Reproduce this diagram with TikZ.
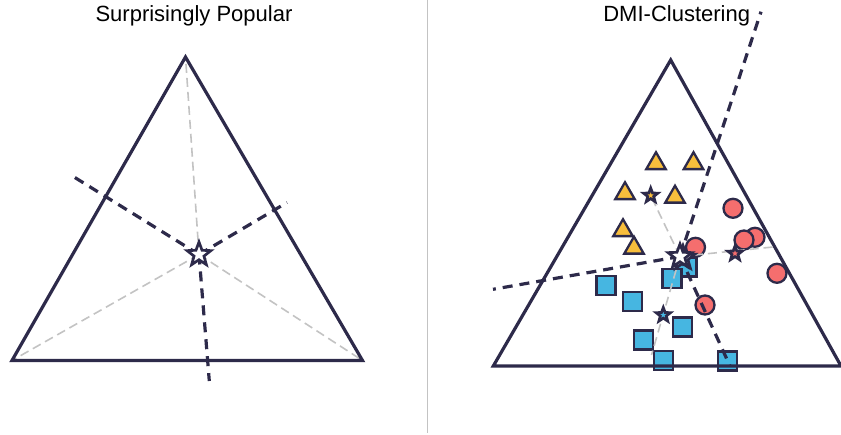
\documentclass[tikz,border=0pt]{standalone}
\usepackage{fontspec}
\setmainfont{Liberation Sans}
\usetikzlibrary{shapes.geometric}
\definecolor{navy}{RGB}{45,42,74}
\definecolor{ylw}{RGB}{248,190,60}
\definecolor{rd}{RGB}{245,110,110}
\definecolor{bl}{RGB}{70,182,225}
\definecolor{lgray}{RGB}{195,195,195}
\begin{document}
\begin{tikzpicture}[x=1pt,y=-1pt,
 edge/.style={draw=navy,line width=3.2pt,line join=miter},
 darkdash/.style={draw=navy,line width=3.2pt,dash pattern=on 10pt off 7pt},
 graydash/.style={draw=lgray,line width=1.6pt,dash pattern=on 9pt off 5pt},
 sep/.style={draw=lgray,line width=1.2pt},
 tri/.style={regular polygon,regular polygon sides=3,minimum size=22.5pt,inner sep=0pt,fill=ylw,draw=navy,line width=2.3pt},
 circ/.style={circle,minimum size=19pt,inner sep=0pt,fill=rd,draw=navy,line width=2.3pt},
 sq/.style={rectangle,minimum size=19pt,inner sep=0pt,fill=bl,draw=navy,line width=2.3pt},
 bigstar/.style={star,star points=5,star point ratio=2.4,minimum size=25pt,inner sep=0pt,fill=white,draw=navy,line width=2.7pt},
 smallstar/.style={star,star points=5,star point ratio=2.4,minimum size=15pt,inner sep=0pt,draw=navy,line width=2.7pt},
 title/.style={font=\fontsize{22}{26}\selectfont,anchor=base,inner sep=0pt}
]
\useasboundingbox (0,0) rectangle (841,434);

% titles and separator
\node[title] (t1) at (194,21) {Surprisingly Popular};
\node[title] (t2) at (676.7,21) {DMI-Clustering};
\coordinate (s1) at (427.3,0);
\coordinate (s2) at (427.3,432.7);
\draw[sep] (s1) -- (s2);

% ---------------- left panel ----------------
\coordinate (LA) at (185.5,57);
\coordinate (LB) at (12,360.5);
\coordinate (LC) at (362.5,360.5);
\coordinate (ls0) at (199,254.5);
\coordinate (l1) at (70,174.5);
\coordinate (l2) at (287,202.5);
\coordinate (l3) at (209.3,381);
\draw[graydash] (ls0) -- (LA);
\draw[graydash] (ls0) -- (LB);
\draw[graydash] (ls0) -- (LC);
\draw[edge] (LA) -- (LB) -- (LC) -- cycle;
\draw[darkdash] (ls0) -- (l1);
\draw[darkdash] (ls0) -- (l2);
\draw[darkdash] (ls0) -- (l3);
\node[bigstar] (ls) at (ls0) {};

% ---------------- right panel ----------------
\coordinate (RA) at (670.7,60);
\coordinate (RB) at (493.3,366);
\coordinate (RC) at (841,366);
\coordinate (ms0) at (680,256.5);
\coordinate (g1) at (773,247);
\coordinate (g2) at (651.5,355);
\coordinate (d1) at (493,289.3);
\coordinate (d2) at (761,11.7);
\coordinate (d3) at (730,366);

% triangles (yellow)
\node[tri] (y1) at (656,163.5) {};
\node[tri] (y2) at (693.5,163.5) {};
\node[tri] (y3) at (625,193.5) {};
\node[tri] (y4) at (675,197) {};
\node[tri] (y5) at (623,230.5) {};
\node[tri] (y6) at (634,248) {};
% circles (red)
\node[circ] (r1) at (733,208.3) {};
\node[circ] (r2) at (755,237.3) {};
\node[circ] (r3) at (744,240) {};
\node[circ] (r4) at (695.5,247.3) {};
\node[circ] (r5) at (777,273.3) {};
\node[circ] (r6) at (705,305) {};
% squares (blue)
\node[sq] (b1) at (606,285.5) {};
\node[sq] (b2) at (632.3,301.7) {};
\node[sq] (b3) at (687,267) {};
\node[sq] (b4) at (672,278.3) {};
\node[sq] (b5) at (682.7,327) {};
\node[sq] (b6) at (643.3,340) {};
\node[sq] (b7) at (663.3,360.7) {};
\node[sq] (b8) at (727.3,361) {};

\draw[edge] (RA) -- (RB) -- (RC) -- cycle;

% cluster centres
\coordinate (ys0) at (650.7,195.5);
\coordinate (rs0) at (735,253.5);
\coordinate (bs0) at (663.3,315);
\draw[graydash] (ms0) -- (ys0);
\draw[graydash] (ms0) -- (g1);
\draw[graydash] (ms0) -- (g2);
\draw[darkdash] (ms0) -- (d1);
\draw[darkdash] (ms0) -- (d2);
\draw[darkdash] (ms0) -- (d3);
\node[smallstar,fill=ylw] (ys) at (ys0) {};
\node[smallstar,fill=rd] (rs) at (rs0) {};
\node[smallstar,fill=bl] (bs) at (bs0) {};
\node[bigstar] (ms2) at (683,258) {};
\node[bigstar] (ms) at (ms0) {};
\end{tikzpicture}
\end{document}
